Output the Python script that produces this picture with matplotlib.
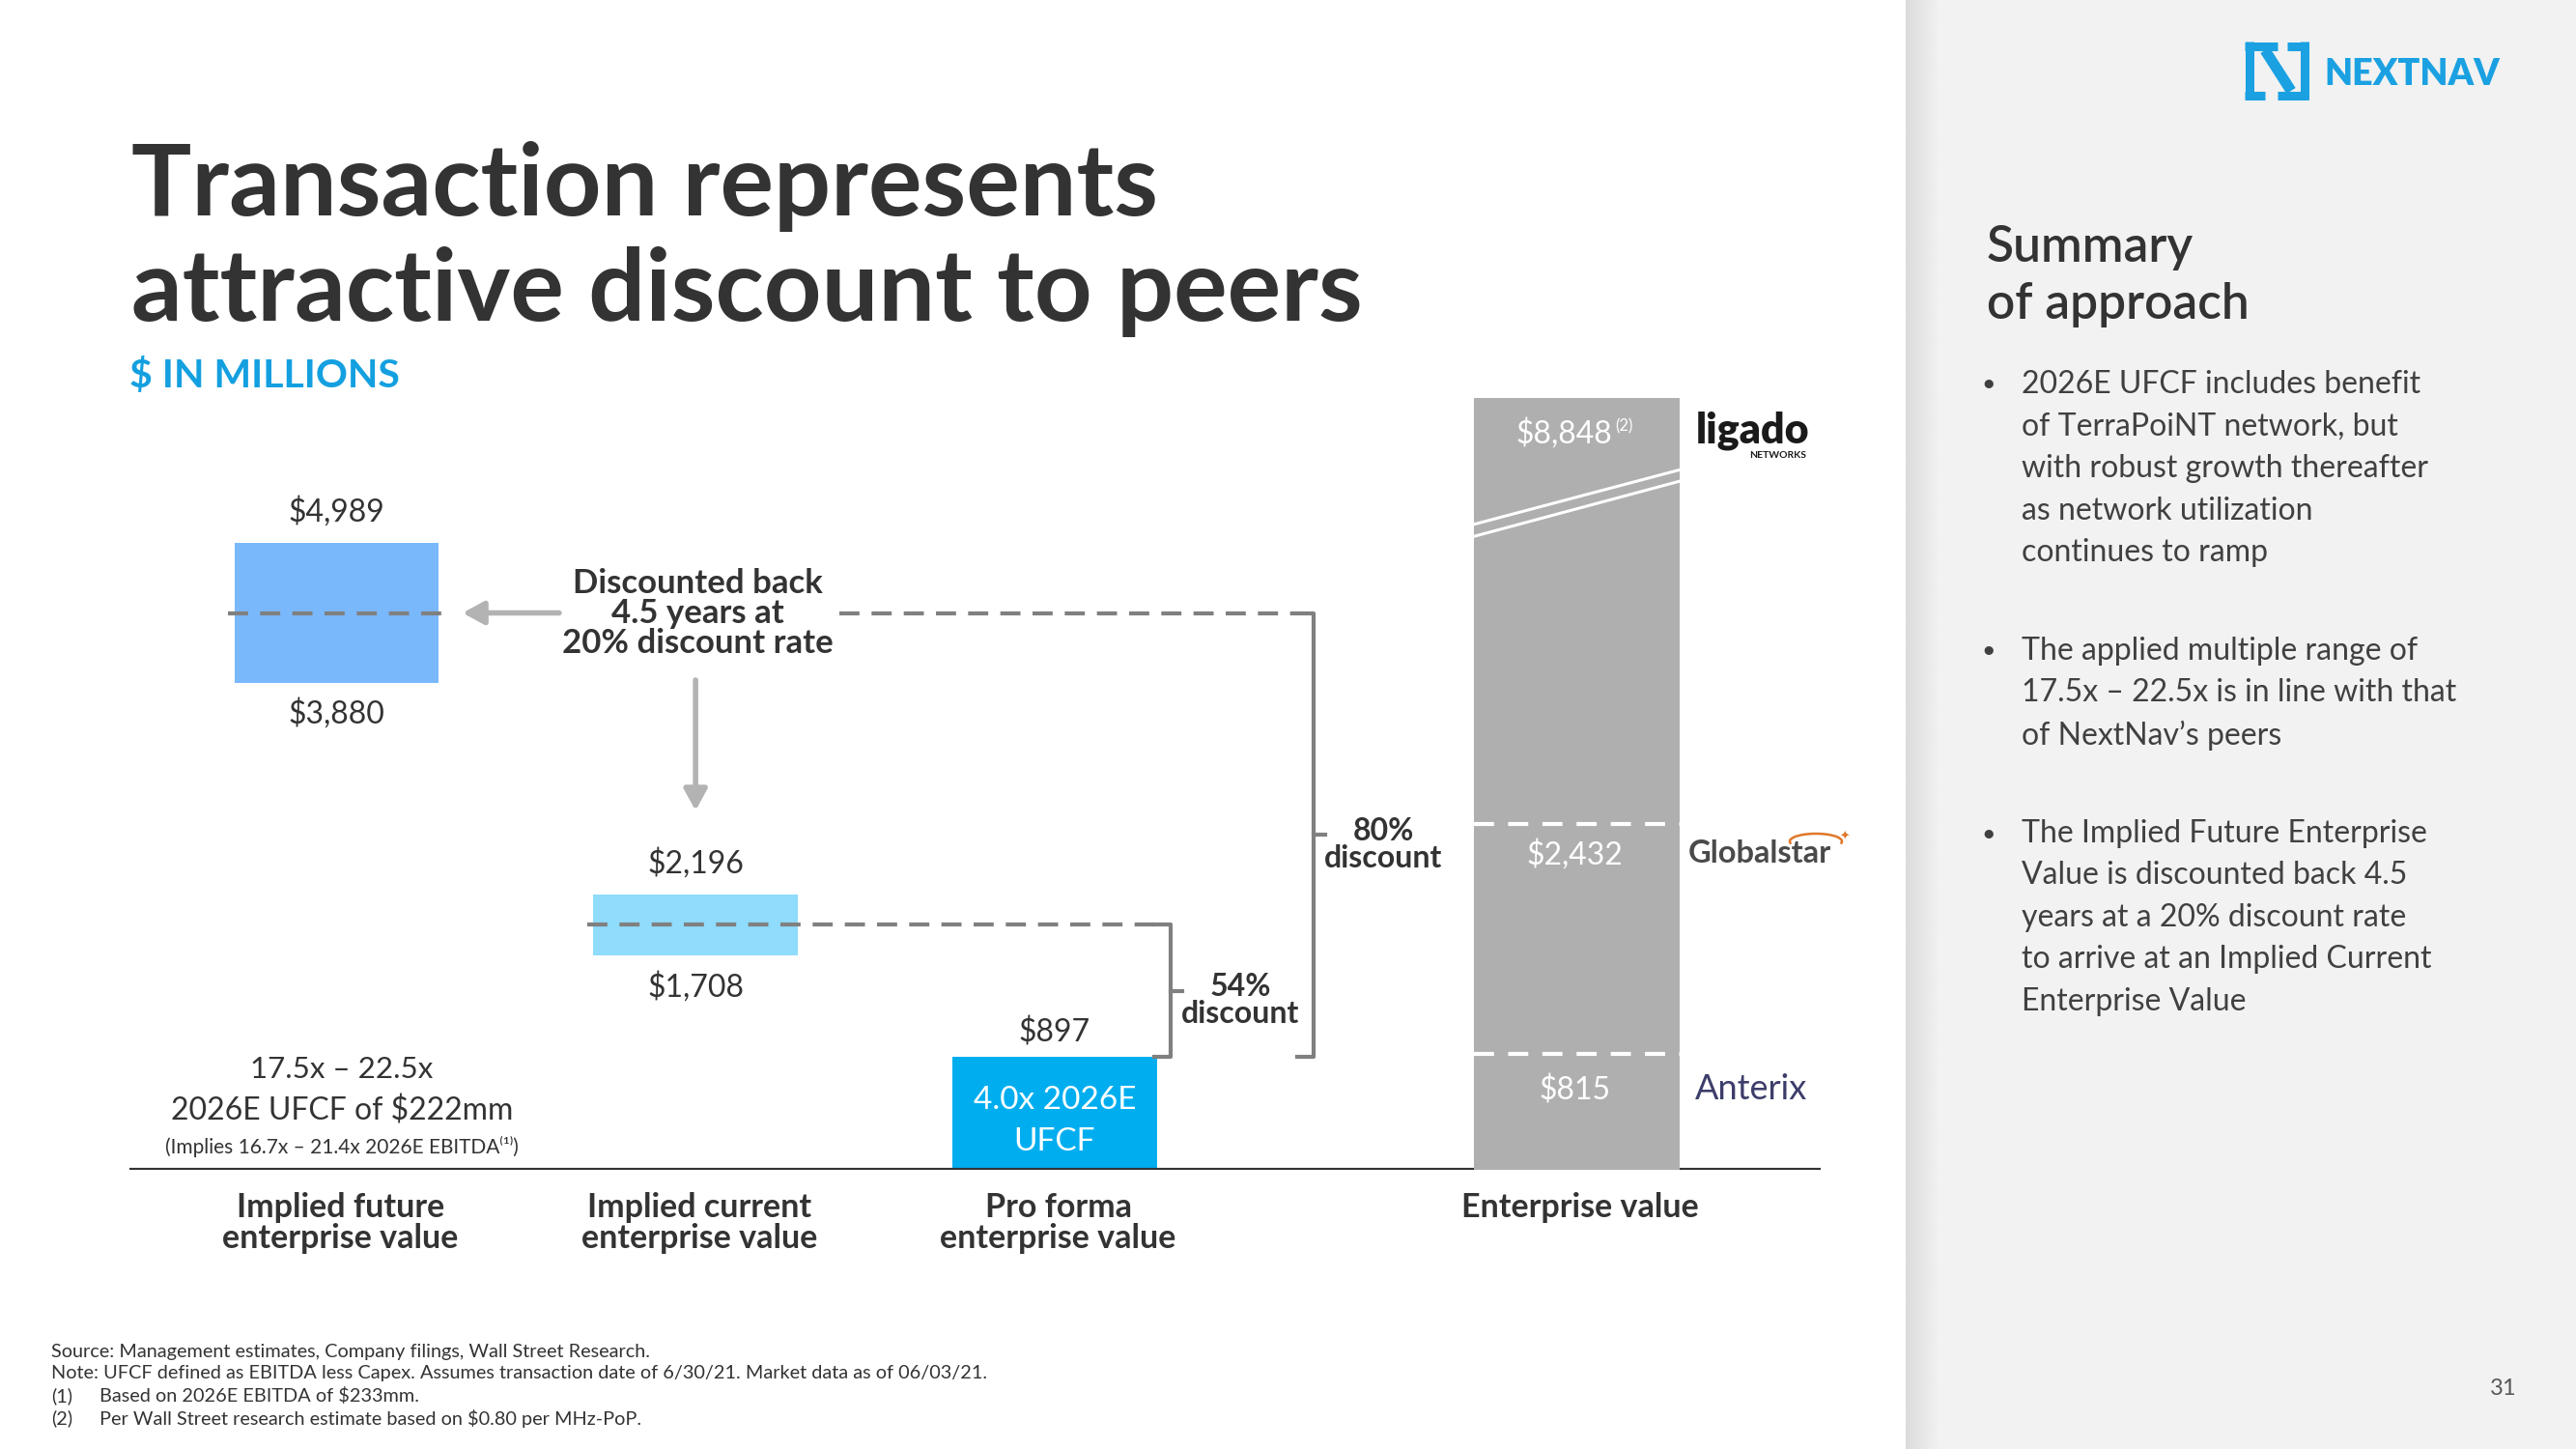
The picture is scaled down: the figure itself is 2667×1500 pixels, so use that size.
import matplotlib.pyplot as plt
import numpy as np
from matplotlib.lines import Line2D
from matplotlib.patches import Arc

plt.rcParams['font.family'] = ['Lato', 'DejaVu Sans']
plt.rcParams['text.parse_math'] = False

## Data ---------------------------------------------

categories = [["Implied future", "enterprise value"],
              ["Implied current", "enterprise value"],
              ["Pro forma", "enterprise value"],
              ["Enterprise value"]]
x_pos = [0, 1, 2, 3.455]

future_ev = [3880, 4989]      # low / high
current_ev = [1708, 2196]     # low / high
proforma_ev = 897
peer_names = ["Anterix", "Globalstar", "ligado"]
peer_ev = [815, 2432, 8848]

multiple_text = ["17.5x \u2013 22.5x", "2026E UFCF of $222mm",
                 "(Implies 16.7x \u2013 21.4x 2026E EBITDA\u207d\u00b9\u207e)"]
proforma_text = ["4.0x 2026E", "UFCF"]
bridge_text = ["Discounted back", "4.5 years at", "20% discount rate"]

title_lines = ["Transaction represents", "attractive discount to peers"]
subtitle = "$ IN MILLIONS"
summary_title = ["Summary", "of approach"]
bullets = [
    ["2026E UFCF includes benefit", "of TerraPoiNT network, but",
     "with robust growth thereafter", "as network utilization", "continues to ramp"],
    ["The applied multiple range of", "17.5x \u2013 22.5x is in line with that",
     "of NextNav\u2019s peers"],
    ["The Implied Future Enterprise", "Value is discounted back 4.5",
     "years at a 20% discount rate", "to arrive at an Implied Current",
     "Enterprise Value"],
]
footnotes = [("", "Source: Management estimates, Company filings, Wall Street Research."),
             ("", "Note: UFCF defined as EBITDA less Capex. Assumes transaction date of 6/30/21. Market data as of 06/03/21."),
             ("(1)", "Based on 2026E EBITDA of $233mm."),
             ("(2)", "Per Wall Street research estimate based on $0.80 per MHz-PoP.")]
page_no = "31"

## Style --------------------------------------------

W, H = 2667, 1500
DARK = '#333333'
DASH = '#808080'
ARROW = '#b3b3b3'
BLUE_LOGO = '#1ba1e2'

fig = plt.figure(figsize=(W / 100, H / 100), dpi=100, facecolor='white')


def ftext(x, y, s, **kw):
    fig.text(x / W, 1 - y / H, s, **kw)


def fline(xs, ys, **kw):
    fig.add_artist(Line2D(np.array(xs) / W, 1 - np.array(ys) / H,
                          transform=fig.transFigure, **kw))


def dtext(a, x, y, s, dy=0, **kw):
    kw.setdefault('ha', 'center')
    kw.setdefault('va', 'center')
    a.annotate(s, (x, y), xytext=(0, -dy), textcoords='offset pixels',
               annotation_clip=False, **kw)


## Right panel --------------------------------------

panel = fig.add_axes([1973 / W, 0, (W - 1973) / W, 1], zorder=-2)
panel.set_facecolor('#f2f2f2')
panel.set_xticks([]); panel.set_yticks([])
for s in panel.spines.values():
    s.set_visible(False)
shade = fig.add_axes([1973 / W, 0, 36 / W, 1], zorder=-1)
shade.imshow(np.linspace(0.86, 0.95, 64)[None, :], cmap='gray', vmin=0, vmax=1, aspect='auto')
shade.axis('off')

# logo
logo_kw = dict(color=BLUE_LOGO, lw=6.5, solid_capstyle='butt')
fline([2328.5, 2328.5], [43, 103], **logo_kw)
fline([2324, 2358], [47.5, 47.5], **logo_kw)
fline([2324, 2345], [98.5, 98.5], **logo_kw)
fline([2345, 2372], [52, 94], color=BLUE_LOGO, lw=8, solid_capstyle='butt')
fline([2385.5, 2385.5], [43, 103], **logo_kw)
fline([2368, 2390], [47.5, 47.5], **logo_kw)
fline([2358, 2390], [98.5, 98.5], **logo_kw)
ftext(2406, 88, "NEXTNAV", color=BLUE_LOGO, fontsize=27, fontweight='heavy', va='baseline')

ftext(2057, 271, summary_title[0], color=DARK, fontsize=37, fontweight='semibold', va='baseline')
ftext(2057, 330, summary_title[1], color=DARK, fontsize=37, fontweight='semibold', va='baseline')

y = 398
for para in bullets:
    ftext(2059, y, "\u2022", color='#404040', fontsize=18, ha='center', va='center')
    for line in para:
        ftext(2093, y, line, color='#404040', fontsize=23, va='center')
        y += 43.5
    y += 58.5

ftext(2592, 1437, page_no, color='#595959', fontsize=17, ha='center', va='center')

## Title + footnotes --------------------------------

ftext(136, 223, title_lines[0], color=DARK, fontsize=75, fontweight='bold', va='baseline')
ftext(136, 332, title_lines[1], color=DARK, fontsize=75, fontweight='bold', va='baseline')
ftext(134, 401, subtitle, color='#14a0e0', fontsize=29.5, fontweight='bold', va='baseline')

for i, (tag, note) in enumerate(footnotes):
    yy = 1399 + 23 * i
    if tag:
        ftext(53, yy, tag, color=DARK, fontsize=14.3, va='center')
        ftext(103, yy, note, color=DARK, fontsize=14.3, va='center')
    else:
        ftext(53, yy, note, color=DARK, fontsize=14.3, va='center')

## Main chart ---------------------------------------

ax = fig.add_axes([134 / W, 1 - 1211 / H, (1885 - 134) / W, 799 / H])
ax.set_xlim(-0.577, 4.134)
ax.set_ylim(0, 6146)
ax2 = ax.twinx()
ax2.set_ylim(0, 5435)
for a in (ax, ax2):
    a.patch.set_visible(False)
    a.set_xticks([]); a.set_yticks([])
    for s in a.spines.values():
        s.set_visible(False)

bw = 0.57
ax.bar(x_pos[0], future_ev[1] - future_ev[0], bottom=future_ev[0], width=bw, color='#7ab8fc')
ax.bar(x_pos[1], current_ev[1] - current_ev[0], bottom=current_ev[0], width=bw, color='#8fdcfc')
ax.bar(x_pos[2], proforma_ev, width=bw, color='#00aeef')
ax.axhline(0, color=DARK, lw=3, zorder=5)

# peers bar, clipped at the top with a break
px = x_pos[3]
pw = 0.575
ax2.bar(px, peer_ev[2], width=pw, color='#afafaf')
for v in peer_ev[:2]:
    ax2.plot([px - pw / 2, px + pw / 2], [v, v], color='white', lw=3, dashes=(5, 3.5))
brk = 4460
ax2.plot([px - pw / 2, px + pw / 2], [brk, brk + 390], color='white', lw=2.2)
ax2.plot([px - pw / 2, px + pw / 2], [brk + 85, brk + 470], color='white', lw=2.2)

dtext(ax2, px - 0.005, peer_ev[0], f"${peer_ev[0]:,}", dy=38, color='white', fontsize=23)
dtext(ax2, px - 0.005, peer_ev[1], f"${peer_ev[1]:,}", dy=31, color='white', fontsize=23)
dtext(ax2, px - 0.035, 5435, f"${peer_ev[2]:,}", dy=37, color='white', fontsize=23)
dtext(ax2, px + 0.131, 5435, "(2)", dy=29, color='white', fontsize=12)

# peer names
logo_x = 3.785
dtext(ax2, logo_x, 5435, peer_names[2], dy=34, ha='left', color='#1a1a1a', fontsize=31, fontweight='heavy')
dtext(ax2, logo_x + 0.31, 5435, "NETWORKS", dy=60, ha='right', color='#1a1a1a', fontsize=7.5, fontweight='bold')
dtext(ax2, logo_x - 0.02, peer_ev[1], peer_names[1], dy=30, ha='left', color='#4a4a4a', fontsize=23.5, fontweight='bold')
dtext(ax2, logo_x, peer_ev[0], peer_names[0], dy=36, ha='left', color='#3d3d6b', fontsize=26)
fig.add_artist(Arc((1880 / W, 1 - 871 / H), 54 / W, 16 / H, theta1=-10, theta2=190,
                   transform=fig.transFigure, color='#e0782a', lw=1.8))
ftext(1910, 866, "\u2726", color='#e0782a', fontsize=9, ha='center', va='center')

# value labels
dtext(ax, x_pos[0], future_ev[1], f"${future_ev[1]:,}", dy=-33, color=DARK, fontsize=23)
dtext(ax, x_pos[0], future_ev[0], f"${future_ev[0]:,}", dy=32, color=DARK, fontsize=23)
dtext(ax, x_pos[1], current_ev[1], f"${current_ev[1]:,}", dy=-32, color=DARK, fontsize=23)
dtext(ax, x_pos[1], current_ev[0], f"${current_ev[0]:,}", dy=33, color=DARK, fontsize=23)
dtext(ax, x_pos[2], proforma_ev, f"${proforma_ev:,}", dy=-25, color=DARK, fontsize=23)
for i, line in enumerate(proforma_text):
    dtext(ax, x_pos[2], proforma_ev / 2, line, dy=-14 + 43 * i, color='white', fontsize=24)

for line, dy, fs in zip(multiple_text, [-104, -61, -24], [22.5, 23, 15]):
    dtext(ax, x_pos[0] + 0.015, 0, line, dy=dy, color=DARK, fontsize=fs)

# category labels
for x, lines in zip(x_pos, categories):
    for i, line in enumerate(lines):
        dtext(ax, x + 0.01, 0, line, dy=39 + 32 * i, color=DARK, fontsize=24.5, fontweight='bold')

# discounting bridge
mid_future = sum(future_ev) / 2
mid_current = sum(current_ev) / 2
dash_kw = dict(color=DASH, lw=3, dashes=(5, 3))
ax.plot([x_pos[0] - bw / 2 - 0.018, x_pos[0] + bw / 2 + 0.018], [mid_future] * 2, **dash_kw)
ax.plot([1.40, 2.67], [mid_future] * 2, **dash_kw)
ax.plot([x_pos[1] - bw / 2 - 0.018, 2.28], [mid_current] * 2, **dash_kw)

for i, line in enumerate(bridge_text):
    dtext(ax, 1.005, mid_future, line, dy=-31 + 31 * i, color=DARK, fontsize=25, fontweight='bold')

arrow_kw = dict(arrowstyle='-|>,head_length=0.55,head_width=0.3', color=ARROW, lw=4,
                shrinkA=0, shrinkB=0, mutation_scale=24)
ax.annotate('', xy=(0.351, mid_future), xytext=(0.62, mid_future), arrowprops=arrow_kw)
ax.annotate('', xy=(1.0, 2860), xytext=(1.0, 3900), arrowprops=arrow_kw)


def bracket(xb, y_top, y_bot, label):
    ax.plot([xb - 0.045, xb, xb, xb - 0.045], [y_top, y_top, y_bot, y_bot],
            color=DASH, lw=3, solid_joinstyle='round')
    ym = (y_top + y_bot) / 2
    ax.plot([xb, xb + 0.032], [ym, ym], color=DASH, lw=3)
    dtext(ax, xb + 0.195, ym, label, dy=-4, color=DARK, fontsize=23, fontweight='bold')
    dtext(ax, xb + 0.195, ym, "discount", dy=24, color=DARK, fontsize=23, fontweight='bold')


disc_current = round((1 - proforma_ev / mid_current) * 100)
disc_future = round((1 - proforma_ev / mid_future) * 100)
bracket(2.323, mid_current, proforma_ev, f"{disc_current}%")
bracket(2.721, mid_future, proforma_ev, f"{disc_future}%")

fig.savefig("out.png", dpi=100, facecolor='white')
